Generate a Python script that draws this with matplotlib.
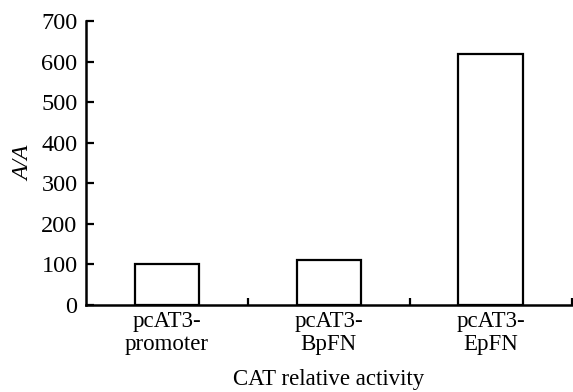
import numpy as np
import matplotlib.pyplot as plt
from matplotlib.ticker import FixedLocator

# Data
categories = ['pcAT3-\npromoter', 'pcAT3-\nBpFN', 'pcAT3-\nEpFN']
values = [100, 111, 620]
yticks = [0, 100, 200, 300, 400, 500, 600, 700]

plt.rcParams['font.family'] = ['Liberation Serif', 'DejaVu Serif']

fig = plt.figure(figsize=(5.73, 3.92), dpi=100)
ax = fig.add_axes([0.150, 0.222, 0.848, 0.724])

x = np.arange(len(categories))
ax.bar(x, values, width=0.4, color='white', edgecolor='black', linewidth=1.6)

ax.set_xlim(-0.5, 2.5)
ax.set_ylim(0, 700)
ax.set_yticks(yticks)
ax.set_xticks(x)
ax.set_xticklabels(categories, fontsize=16.5, linespacing=1.15)
ax.xaxis.set_minor_locator(FixedLocator([0.5, 1.5, 2.5]))
ax.tick_params(axis='x', which='major', length=0, pad=4)
ax.tick_params(axis='x', which='minor', direction='in', length=5, width=1.6)
ax.tick_params(axis='y', direction='in', length=6, width=1.6, labelsize=17.5, pad=6)

for s in ['top', 'right']:
    ax.spines[s].set_visible(False)
for s in ['left', 'bottom']:
    ax.spines[s].set_linewidth(1.8)

ax.set_ylabel('A/A', fontsize=17, style='italic', labelpad=5)
ax.set_xlabel('CAT relative activity', fontsize=16.5, labelpad=10)

fig.savefig('out.png', dpi=100)
